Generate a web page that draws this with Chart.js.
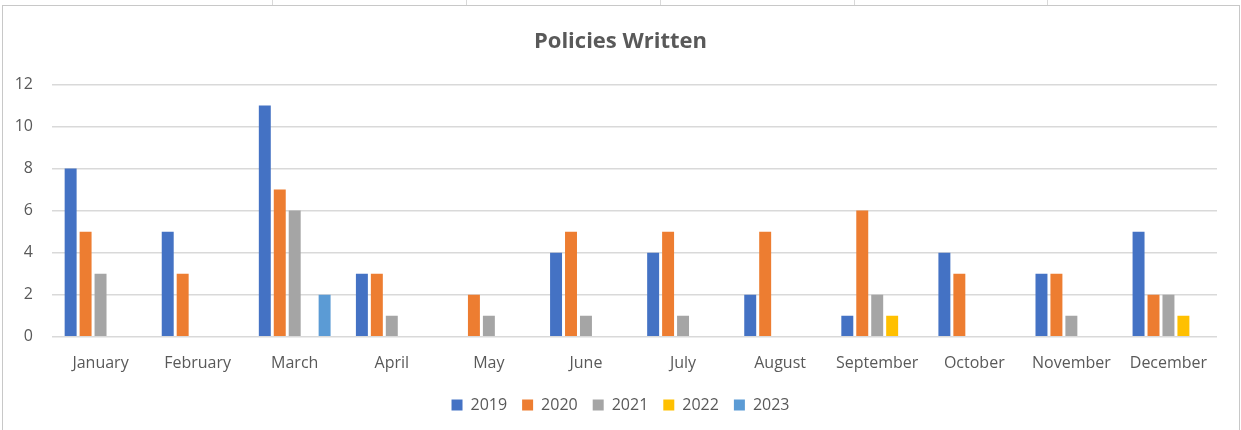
<!DOCTYPE html>
<html>
<head>
<meta charset="utf-8">
<script src="https://cdn.jsdelivr.net/npm/chart.js@4/dist/chart.umd.min.js"></script>
<style>
  html, body { margin: 0; padding: 0; background: #fff; }
  #wrap { position: relative; width: 1241px; height: 430px; }
</style>
</head>
<body>
<div id="wrap"><canvas id="policies-chart" width="1241" height="430"></canvas></div>
<script>
// Data
var months = ['January', 'February', 'March', 'April', 'May', 'June', 'July', 'August', 'September', 'October', 'November', 'December'];
var years = ['2019', '2020', '2021', '2022', '2023'];
var policies2019 = [8, 5, 11, 3, 0, 4, 4, 2, 1, 4, 3, 5];
var policies2020 = [5, 3, 7, 3, 2, 5, 5, 5, 6, 3, 3, 2];
var policies2021 = [3, 0, 6, 1, 1, 1, 1, 0, 2, 0, 1, 2];
var policies2022 = [0, 0, 0, 0, 0, 0, 0, 0, 1, 0, 0, 1];
var policies2023 = [0, 0, 2, 0, 0, 0, 0, 0, 0, 0, 0, 0];
var yTicks = [0, 2, 4, 6, 8, 10, 12];

var colors = ['#4472C4', '#ED7D31', '#A5A5A5', '#FFC000', '#5B9BD5'];
var seriesData = [policies2019, policies2020, policies2021, policies2022, policies2023];

var textColor = '#595959';
var fontFamily = "'Open Sans', 'Noto Sans', sans-serif";

// Frame and sheet gridlines behind the chart (like the Excel screenshot)
var framePlugin = {
  id: 'frame',
  afterLayout: function(chart) {
    // let the y tick labels use the space left of the axis box (no clipping)
    chart.scales.y.left = 0;
  },
  beforeDraw: function(chart) {
    var c = chart.ctx;
    c.save();
    c.fillStyle = '#ffffff';
    c.fillRect(0, 0, chart.width, chart.height);
    c.strokeStyle = '#D9D9D9';
    c.lineWidth = 1;
    // sheet cell lines at the very top
    [272.5, 466.5, 660.5, 854.5, 1047.5].forEach(function(x) {
      c.beginPath(); c.moveTo(x, 0); c.lineTo(x, 5); c.stroke();
    });
    // chart border
    c.strokeStyle = '#C8C8C8';
    c.strokeRect(2.5, 5.5, 1237, 440);
    c.restore();
  }
};

var datasets = years.map(function(year, i) {
  return {
    label: year,
    data: seriesData[i],
    backgroundColor: colors[i],
    borderWidth: 0,
    categoryPercentage: 0.77,
    barPercentage: 0.8
  };
});

var ctx = document.getElementById('policies-chart').getContext('2d');
var chart = new Chart(ctx, {
  type: 'bar',
  data: { labels: months, datasets: datasets },
  plugins: [framePlugin],
  options: {
    responsive: false,
    animation: false,
    layout: { padding: { top: 27, left: 24, right: 24, bottom: 7 } },
    plugins: {
      title: {
        display: true,
        text: 'Policies Written',
        color: textColor,
        font: { family: fontFamily, size: 22, weight: 'bold' },
        padding: { top: 2, bottom: 29 }
      },
      legend: {
        position: 'bottom',
        labels: {
          color: textColor,
          font: { family: fontFamily, size: 16 },
          boxWidth: 11,
          boxHeight: 11,
          padding: 15
        }
      },
      tooltip: { enabled: false }
    },
    scales: {
      x: {
        grid: { display: false },
        border: { display: false },
        ticks: {
          color: textColor,
          font: { family: fontFamily, size: 16 },
          padding: 9,
          maxRotation: 0
        }
      },
      y: {
        min: 0,
        max: 12,
        afterBuildTicks: function(axis) {
          axis.ticks = yTicks.map(function(v) { return { value: v }; });
        },
        afterFit: function(axis) {
          axis.width = 28;
        },
        grid: { color: '#D9D9D9', lineWidth: 1.5, drawTicks: false },
        border: { display: false },
        ticks: {
          color: textColor,
          font: { family: fontFamily, size: 16 },
          padding: 19
        }
      }
    }
  }
});
</script>
</body>
</html>
